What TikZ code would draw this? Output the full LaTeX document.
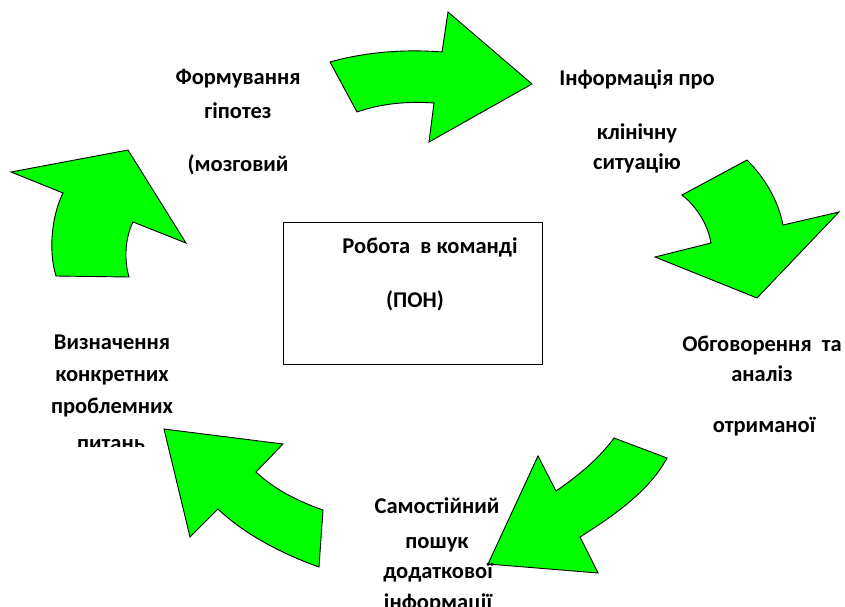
\documentclass[tikz,border=0pt]{standalone}
\usepackage{fontspec}
\setmainfont{Carlito}
\begin{document}
\begin{tikzpicture}[x=1pt,y=-1pt,
  garrow/.style={fill={rgb,255:red,0;green,255;blue,0}, draw=black, line width=0.9pt, line join=miter},
  lbl/.style={font=\fontsize{22.5}{26}\selectfont\bfseries, inner sep=0pt, anchor=base, text=black},
  panel/.style={draw=black, line width=0.9pt, minimum width=259pt, minimum height=142pt, inner sep=0pt}]
\useasboundingbox (0,0) rectangle (845,606);
% arrows
\draw[garrow] (330,62) .. controls (365,52) and (405,49) .. (442,52) -- (448,12) -- (532,84) -- (429,142) -- (434,103) .. controls (405,101) and (380,104) .. (357,112) -- cycle;
\draw[garrow] (682,195) -- (747,160) .. controls (765,178) and (778,200) .. (783,225) -- (839,212) -- (757,298) -- (655,257) -- (711,243) .. controls (708,225) and (697,207) .. (682,195) -- cycle;
\draw[garrow] (614,438) -- (667,458) .. controls (650,490) and (615,515) .. (580,537) -- (598,573) -- (488,564) -- (538,456) -- (556,491) .. controls (575,478) and (598,460) .. (614,438) -- cycle;
\draw[garrow] (164,429) -- (283,444) -- (256,472) .. controls (275,490) and (300,502) .. (323,510) -- (319,567) .. controls (285,555) and (245,535) .. (218,509) -- (190,537) -- cycle;
\draw[garrow] (11,172) -- (128,150) -- (186,243) -- (133,222) .. controls (125,238) and (124,260) .. (129,277) -- (56,276) .. controls (48,250) and (52,215) .. (63,193) -- cycle;
% central box
\node[panel] (team) at (412.5,293) {};
\node[lbl] (team1) at (430,253) {Робота\ \ в команді};
\node[lbl] (team2) at (415,307) {(ПОН)};
% labels
\node[lbl] (f1) at (238,84) {Формування};
\node[lbl] (f2) at (238,118) {гіпотез};
\node[lbl] (f3) at (238,171) {(мозговий};
\node[lbl] (i1) at (637,85) {Інформація про};
\node[lbl] (i2) at (637,139) {клінічну};
\node[lbl] (i3) at (637,169) {ситуацію};
\node[lbl] (o1) at (762,351) {Обговорення\ \ та};
\node[lbl] (o2) at (762,381) {аналіз};
\node[lbl] (o3) at (764,432) {отриманої};
\node[lbl] (s1) at (437,513) {Самостійний};
\node[lbl] (s2) at (437,548) {пошук};
\node[lbl] (s3) at (438,578) {додаткової};
\node[lbl] (s4) at (438,609) {інформації};
\node[lbl] (v1) at (112,349) {Визначення};
\node[lbl] (v2) at (112,381) {конкретних};
\node[lbl] (v3) at (112,413) {проблемних};
\begin{scope}
\clip (30,420) rectangle (195,446);
\node[lbl] (v4) at (111,450) {питань};
\end{scope}
\end{tikzpicture}
\end{document}
